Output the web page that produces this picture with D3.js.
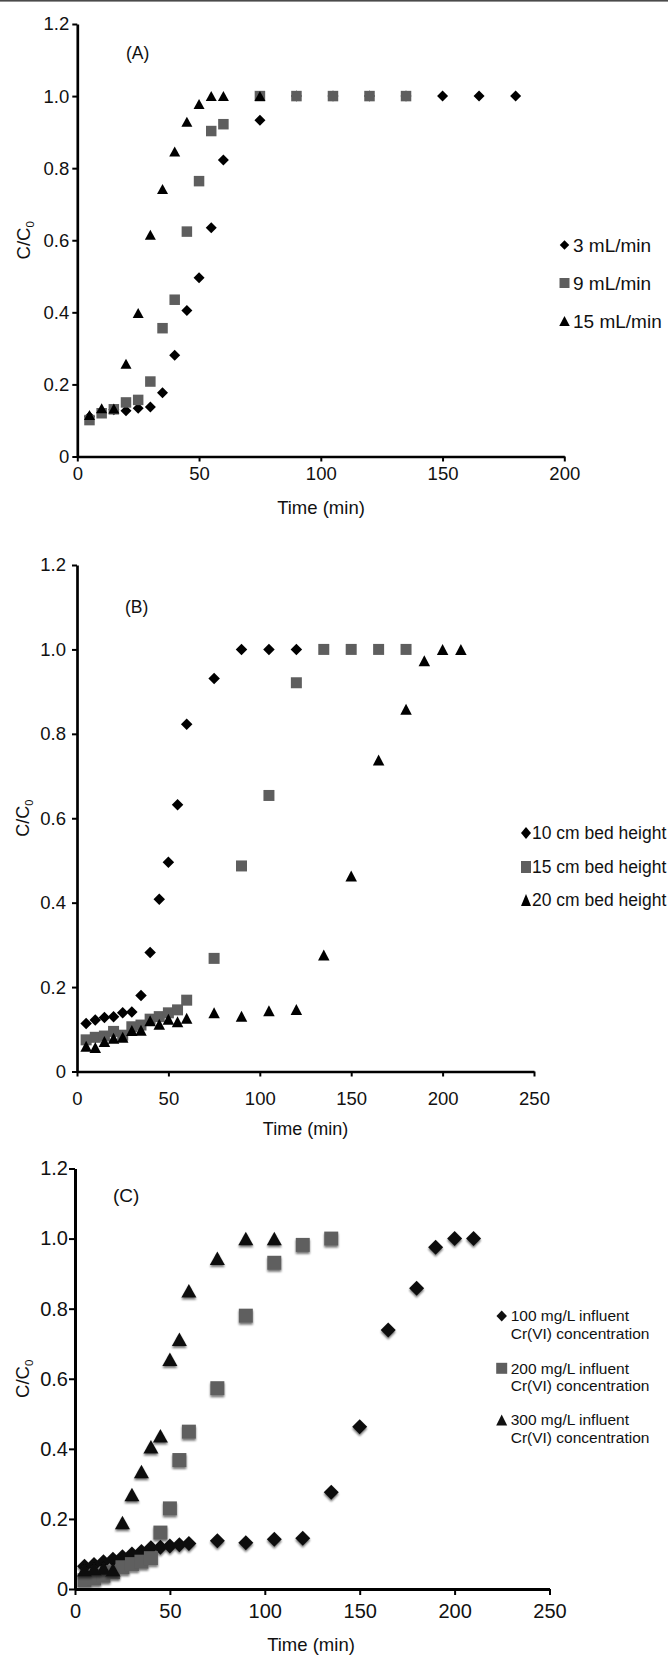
<!DOCTYPE html>
<html>
<head>
<meta charset="utf-8">
<script src="https://cdn.jsdelivr.net/npm/d3@7/dist/d3.min.js"></script>
<style>
  html, body { margin: 0; padding: 0; background: #fff; }
  svg { display: block; font-family: "Liberation Sans", Arial, Helvetica, sans-serif; }
</style>
</head>
<body>
<svg id="fig" width="668" height="1656"></svg>
<script>
// ---------- Panel A: effect of flow rate ----------
const timeA3  = [5,10,15,20,25,30,35,40,45,50,55,60,75,90,105,120,135,150,165,180];
const valueA3 = [0.11,0.122,0.13,0.127,0.134,0.137,0.177,0.281,0.405,0.496,0.635,0.823,0.933,1,1,1,1,1,1,1];
const timeA9  = [5,10,15,20,25,30,35,40,45,50,55,60,75,90,105,120,135];
const valueA9 = [0.101,0.12,0.131,0.15,0.157,0.208,0.356,0.435,0.624,0.764,0.903,0.922,1,1,1,1,1];
const timeA15  = [5,10,15,20,25,30,35,40,45,50,55,60,75];
const valueA15 = [0.115,0.134,0.133,0.257,0.398,0.615,0.742,0.846,0.929,0.978,1,1,1];
const legendA = ["3 mL/min", "9 mL/min", "15 mL/min"];
const xTicksA = [0,50,100,150,200];

// ---------- Panel B: effect of bed height ----------
const timeB10  = [5,10,15,20,25,30,35,40,45,50,55,60,75,90,105,120];
const valueB10 = [0.114,0.122,0.128,0.130,0.139,0.141,0.180,0.282,0.408,0.496,0.632,0.823,0.931,1,1,1];
const timeB15  = [5,10,15,20,25,30,35,40,45,50,55,60,75,90,105,120,135,150,165,180];
const valueB15 = [0.075,0.081,0.084,0.095,0.086,0.106,0.110,0.124,0.130,0.139,0.146,0.169,0.268,0.487,0.654,0.921,1,1,1,1];
const timeB20  = [5,10,15,20,25,30,35,40,45,50,55,60,75,90,105,120,135,150,165,180,190,200,210];
const valueB20 = [0.060,0.057,0.071,0.079,0.081,0.097,0.098,0.120,0.112,0.124,0.118,0.126,0.139,0.131,0.144,0.147,0.276,0.463,0.738,0.858,0.973,1,1];
const legendB = ["10 cm bed height", "15 cm bed height", "20 cm bed height"];
const xTicksB = [0,50,100,150,200,250];

// ---------- Panel C: effect of influent Cr(VI) concentration ----------
const timeC100  = [5,10,15,20,25,30,35,40,45,50,55,60,75,90,105,120,135,150,165,180,190,200,210];
const valueC100 = [0.065,0.07,0.078,0.085,0.092,0.1,0.107,0.118,0.119,0.123,0.126,0.130,0.138,0.132,0.142,0.145,0.276,0.463,0.739,0.858,0.975,1,1];
const timeC200  = [5,10,15,20,25,30,35,40,45,50,55,60,75,90,105,120,135];
const valueC200 = [0.025,0.03,0.038,0.048,0.062,0.071,0.078,0.088,0.161,0.23,0.368,0.449,0.573,0.78,0.931,0.982,1];
const timeC300  = [5,10,15,20,25,30,35,40,45,50,55,60,75,90,105];
const valueC300 = [0.055,0.058,0.06,0.055,0.19,0.27,0.335,0.406,0.437,0.656,0.713,0.851,0.944,1,1];
const legendC = [["100 mg/L influent", "Cr(VI) concentration"],
                 ["200 mg/L influent", "Cr(VI) concentration"],
                 ["300 mg/L influent", "Cr(VI) concentration"]];
const xTicksC = [0,50,100,150,200,250];

const yTicks = [0,0.2,0.4,0.6,0.8,1.0,1.2];

const svg = d3.select("#fig");

// thin rule across the top edge
svg.append("rect").attr("x", 0).attr("y", 0).attr("width", 668).attr("height", 1.6).attr("fill", "#4a4a4a");

// soft shadow used by the markers of the third panel
const defs = svg.append("defs");
const f = defs.append("filter").attr("id", "soft").attr("x", "-50%").attr("y", "-50%").attr("width", "200%").attr("height", "200%");
f.append("feGaussianBlur").attr("in", "SourceAlpha").attr("stdDeviation", 1.3).attr("result", "b");
f.append("feOffset").attr("in", "b").attr("dy", 1.6).attr("result", "o");
f.append("feComponentTransfer").attr("in", "o").attr("result", "s")
  .append("feFuncA").attr("type", "linear").attr("slope", 0.55);
f.append("feGaussianBlur").attr("in", "SourceGraphic").attr("stdDeviation", 0.55).attr("result", "g");
const fm = f.append("feMerge");
fm.append("feMergeNode").attr("in", "s");
fm.append("feMergeNode").attr("in", "g");

// marker outlines centred on their bounding box
function shapePath(kind, w, h) {
  const a = w / 2, b = h / 2;
  if (kind === "diamond") return `M0,${-b}L${a},0L0,${b}L${-a},0Z`;
  if (kind === "square") return `M${-a},${-b}H${a}V${b}H${-a}Z`;
  return `M0,${-b}L${a},${b}L${-a},${b}Z`;
}

const fmtY = d => d === 0 ? "0" : d3.format(".1f")(d);

function drawPanel(p) {
  const x = d3.scaleLinear().domain([0, p.xMax]).range([p.left, p.right]);
  const y = d3.scaleLinear().domain([0, 1.2]).range([p.bottom, p.top]);
  const g = svg.append("g");

  const yAxis = g.append("g").attr("transform", `translate(${p.left},0)`)
    .call(d3.axisLeft(y).tickValues(yTicks).tickFormat(fmtY)
      .tickSize(p.tickLen).tickSizeOuter(0).tickPadding(p.yPad));
  const xAxis = g.append("g").attr("transform", `translate(0,${p.bottom})`)
    .call(d3.axisBottom(x).tickValues(p.xTicks).tickFormat(d3.format("d"))
      .tickSize(p.tickLen).tickSizeOuter(0).tickPadding(p.xPad));
  [yAxis, xAxis].forEach(ax => {
    ax.select(".domain").attr("stroke", "#000").attr("stroke-width", p.axisW);
    ax.selectAll(".tick line").attr("stroke", "#000").attr("stroke-width", 2);
    ax.selectAll(".tick text").attr("fill", "#111").style("font-size", p.tickFont + "px")
      .style("font-family", '"Liberation Sans", Arial, sans-serif');
  });

  // axis titles
  g.append("text").attr("x", p.xTitleX).attr("y", p.xTitleY)
    .attr("text-anchor", "middle").style("font-size", p.titleFont + "px").attr("fill", "#111")
    .text("Time (min)");
  const yt = g.append("text")
    .attr("transform", `translate(${p.yTitleX},${(p.top + p.bottom) / 2}) rotate(-90)`)
    .attr("text-anchor", "middle").style("font-size", p.titleFont + "px").attr("fill", "#111");
  yt.append("tspan").text("C/C");
  yt.append("tspan").attr("dy", 4).style("font-size", (p.titleFont * 0.62) + "px").text("0");

  // panel letter
  g.append("text").attr("x", p.tagX).attr("y", p.tagY).attr("dy", "0.35em")
    .style("font-size", p.tagFont + "px").attr("fill", "#111").text(p.tag);

  // data markers, series drawn in order
  p.series.forEach(s => {
    const pts = s.t.map((t, i) => ({ t, v: s.v[i] }));
    g.append("g").attr("filter", p.soft ? "url(#soft)" : null)
      .selectAll("path").data(pts).join("path")
      .attr("transform", d => `translate(${x(d.t)},${y(d.v)})`)
      .attr("d", shapePath(s.kind, s.w, s.h))
      .attr("fill", s.color);
  });

  // legend
  p.series.forEach((s, i) => {
    const ly = p.legY[i];
    g.append("path").attr("transform", `translate(${p.legMarkX},${ly})`)
      .attr("d", shapePath(s.kind, s.lw, s.lh)).attr("fill", s.color);
    const lines = Array.isArray(s.label) ? s.label : [s.label];
    const txt = g.append("text").attr("x", p.legTextX).attr("y", ly).attr("dy", "0.35em")
      .style("font-size", p.legFont + "px").attr("fill", "#111");
    lines.forEach((ln, j) => {
      txt.append("tspan").attr("x", p.legTextX).attr("dy", j === 0 ? "0.35em" : p.legLine + "px").text(ln);
    });
  });
}

const BLACK = "#000", GREY = "#5e5e5e";

drawPanel({
  left: 77.3, right: 564.3, top: 24, bottom: 456.5, xMax: 200, xTicks: xTicksA,
  tickLen: 5, yPad: 3, xPad: 5, axisW: 2.7, tickFont: 18.5, titleFont: 18.5,
  xTitleX: 321, xTitleY: 514, yTitleX: 30,
  tag: "(A)", tagX: 126, tagY: 53, tagFont: 17.5,
  legMarkX: 564.5, legTextX: 573, legY: [245, 283, 321], legFont: 19, legLine: 18,
  soft: false,
  series: [
    { t: timeA3, v: valueA3, kind: "diamond", color: BLACK, w: 11, h: 11, lw: 9.5, lh: 9.5, label: legendA[0] },
    { t: timeA9, v: valueA9, kind: "square", color: GREY, w: 10.5, h: 10.5, lw: 10, lh: 10, label: legendA[1] },
    { t: timeA15, v: valueA15, kind: "triangle", color: BLACK, w: 11, h: 10, lw: 10.5, lh: 10, label: legendA[2] }
  ]
});

drawPanel({
  left: 77, right: 534, top: 565, bottom: 1071.5, xMax: 250, xTicks: xTicksB,
  tickLen: 5, yPad: 6, xPad: 15, axisW: 2.7, tickFont: 18.5, titleFont: 18,
  xTitleX: 305.5, xTitleY: 1134.5, yTitleX: 29,
  tag: "(B)", tagX: 125, tagY: 607, tagFont: 17.5,
  legMarkX: 526, legTextX: 532, legY: [833, 867, 900], legFont: 17.5, legLine: 18,
  soft: false,
  series: [
    { t: timeB10, v: valueB10, kind: "diamond", color: BLACK, w: 11.5, h: 11.5, lw: 10, lh: 12, label: legendB[0] },
    { t: timeB15, v: valueB15, kind: "square", color: GREY, w: 11, h: 11, lw: 10, lh: 12, label: legendB[1] },
    { t: timeB20, v: valueB20, kind: "triangle", color: BLACK, w: 11.5, h: 11, lw: 10, lh: 12, label: legendB[2] }
  ]
});

drawPanel({
  left: 75, right: 549.5, top: 1168.5, bottom: 1589, xMax: 250, xTicks: xTicksC,
  tickLen: 6, yPad: 1, xPad: 9, axisW: 3, tickFont: 20, titleFont: 18.5,
  xTitleX: 311, xTitleY: 1651, yTitleX: 29,
  tag: "(C)", tagX: 113, tagY: 1195, tagFont: 19,
  legMarkX: 501.7, legTextX: 510.7, legY: [1316, 1368.3, 1420], legFont: 15.5, legLine: 17.6,
  soft: true,
  series: [
    { t: timeC100, v: valueC100, kind: "diamond", color: "#111", w: 15, h: 15, lw: 10.5, lh: 11, label: legendC[0] },
    { t: timeC200, v: valueC200, kind: "square", color: GREY, w: 14, h: 14, lw: 11, lh: 11, label: legendC[1] },
    { t: timeC300, v: valueC300, kind: "triangle", color: "#111", w: 15, h: 13.5, lw: 11, lh: 11, label: legendC[2] }
  ]
});
</script>
</body>
</html>
